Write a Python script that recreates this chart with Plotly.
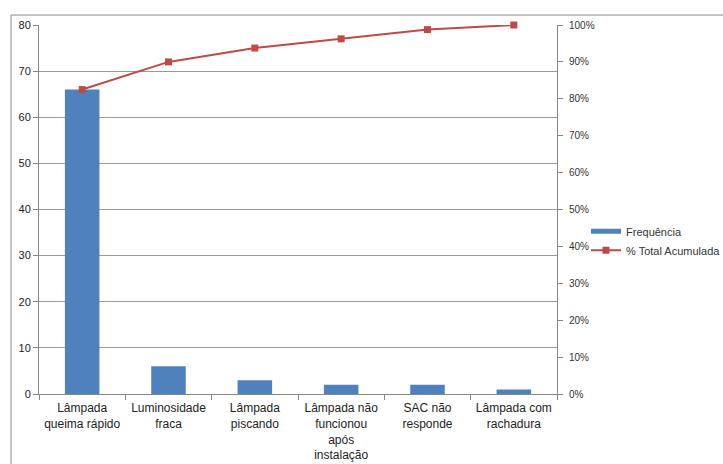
import plotly.graph_objects as go

# Pareto data: complaint categories and their frequencies
categories = [
    "Lâmpada<br>queima rápido",
    "Luminosidade<br>fraca",
    "Lâmpada<br>piscando",
    "Lâmpada não<br>funcionou<br>após<br>instalação",
    "SAC não<br>responde",
    "Lâmpada com<br>rachadura",
]
frequencia = [66, 6, 3, 2, 2, 1]

total = sum(frequencia)
acumulado = []
running = 0
for f in frequencia:
    running += f
    acumulado.append(running / total)

BAR_COLOR = "#4F81BD"
LINE_COLOR = "#BE4B48"
AXIS_COLOR = "#868686"
FONT = "Liberation Sans, Arial, sans-serif"

fig = go.Figure()
fig.add_trace(go.Bar(
    x=categories, y=frequencia, name="Frequência",
    marker=dict(color=BAR_COLOR, line=dict(width=0)),
    width=0.4, showlegend=False,
))
# Legend key for the bars, drawn as a thin band
fig.add_trace(go.Scatter(
    x=[None], y=[None], name="Frequência", mode="lines",
    line=dict(color=BAR_COLOR, width=5),
))
fig.add_trace(go.Scatter(
    x=categories, y=acumulado, name="% Total Acumulada",
    yaxis="y2", mode="lines+markers", cliponaxis=False,
    line=dict(color=LINE_COLOR, width=2),
    marker=dict(symbol="square", size=7, color=LINE_COLOR),
))

# Outer chart frame
fig.add_shape(type="rect", xref="paper", yref="paper",
              x0=-0.054, x1=1.33, y0=-0.2, y1=1.027,
              line=dict(color="#8C8C8C", width=1), layer="below")

fig.update_layout(
    width=723, height=464,
    margin=dict(l=39, r=166, t=25, b=70, autoexpand=False),
    paper_bgcolor="white", plot_bgcolor="white",
    font=dict(family=FONT, size=11, color="#222222"),
    showlegend=True,
    legend=dict(x=1.056, y=0.415, xanchor="left", yanchor="middle",
                font=dict(size=11, color="#333333"),
                bgcolor="rgba(0,0,0,0)"),
    xaxis=dict(
        type="category", showgrid=False,
        showline=True, linecolor=AXIS_COLOR, linewidth=1,
        ticks="outside", tickson="boundaries", ticklen=5, tickcolor=AXIS_COLOR,
        tickfont=dict(size=12, color="#222222"), ticklabelstandoff=3,
    ),
    yaxis=dict(
        range=[0, 80], dtick=10, showgrid=True, gridcolor="#9A9A9A", gridwidth=1,
        showline=True, linecolor=AXIS_COLOR, linewidth=1,
        ticks="outside", ticklen=5, tickcolor=AXIS_COLOR,
        tickfont=dict(size=11, color="#222222"), zeroline=False,
    ),
    yaxis2=dict(
        overlaying="y", side="right", range=[0, 1], dtick=0.1,
        tickformat=".0%", showgrid=False, zeroline=False,
        showline=True, linecolor=AXIS_COLOR, linewidth=1,
        ticks="outside", ticklen=5, tickcolor=AXIS_COLOR,
        tickfont=dict(size=10, color="#333333"), ticklabelstandoff=4,
    ),
)

fig.write_html("out.html")
